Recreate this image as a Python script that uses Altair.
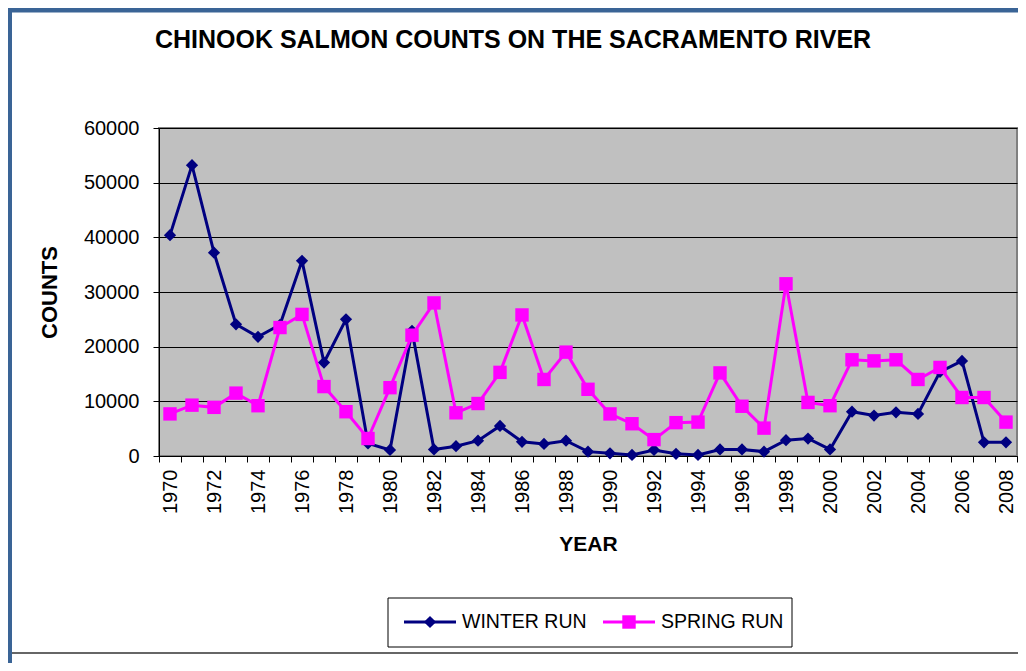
import altair as alt
import pandas as pd

years = list(range(1970, 2009))
winter = [40400, 53200, 37200, 24100, 21800, 24000, 35700, 17100, 25000, 2300,
          1100, 22900, 1200, 1800, 2800, 5500, 2600, 2200, 2800, 800,
          500, 200, 1100, 400, 200, 1200, 1200, 800, 2900, 3200,
          1200, 8100, 7400, 8000, 7700, 15400, 17400, 2500, 2500]
spring = [7700, 9300, 8900, 11500, 9200, 23500, 25900, 12700, 8100, 3200,
          12500, 22100, 28000, 7900, 9600, 15300, 25800, 14000, 19000, 12200,
          7700, 5900, 3000, 6100, 6200, 15200, 9100, 5100, 31500, 9800,
          9200, 17600, 17400, 17600, 14000, 16200, 10700, 10700, 6200]
series_names = ["WINTER RUN", "SPRING RUN"]
series_colors = ["#000080", "#FF00FF"]
series_shapes = ["diamond", "square"]
series_sizes = [150, 180]
y_ticks = [0, 10000, 20000, 30000, 40000, 50000, 60000]

rows = []
for name, vals in zip(series_names, [winter, spring]):
    for yr, v in zip(years, vals):
        rows.append({"year": yr, "count": v, "series": name})
df = pd.DataFrame(rows)

FONT = "Liberation Sans"
W = 858
H = 328

x_enc = alt.X(
    "year:O",
    scale=alt.Scale(type="band", paddingInner=0, paddingOuter=0),
    bandPosition=0.5,
    axis=alt.Axis(
        labelAngle=270,
        labelExpr="datum.value % 2 == 0 ? datum.label : ''",
        labelOverlap=False,
        tickBand="extent",
        tickSize=6,
        labelPadding=7,
        labelFontSize=20,
        labelFont=FONT,
        labelColor="black",
        grid=False,
        domainColor="black",
        tickColor="black",
        title="YEAR",
        titleFont=FONT,
        titleFontSize=21,
        titleFontWeight="bold",
        titleColor="black",
        titlePadding=20,
    ),
)
y_enc = alt.Y(
    "count:Q",
    scale=alt.Scale(domain=[0, 60000], nice=False),
    axis=alt.Axis(
        values=y_ticks,
        format="d",
        grid=True,
        gridColor="black",
        gridWidth=1,
        tickSize=6,
        labelPadding=14,
        labelFontSize=20,
        labelFont=FONT,
        labelColor="black",
        domainColor="black",
        tickColor="black",
        title="COUNTS",
        titleFont=FONT,
        titleFontSize=22,
        titleFontWeight="bold",
        titleColor="black",
        titlePadding=22,
    ),
)

base = alt.Chart(df)
layers = []
for name, col, shp, sz in zip(series_names, series_colors, series_shapes, series_sizes):
    sub = base.transform_filter(alt.datum.series == name)
    layers.append(sub.mark_line(color=col, strokeWidth=3).encode(x=x_enc, y=y_enc))
    layers.append(sub.mark_point(shape=shp, filled=True, size=sz, color=col, opacity=1).encode(x=x_enc, y=y_enc))

one = pd.DataFrame({"a": [0]})

# Chart title
title = alt.Chart(one).mark_text(
    text="CHINOOK SALMON COUNTS ON THE SACRAMENTO RIVER",
    font=FONT, fontSize=25, fontWeight="bold", color="black",
    align="center", baseline="middle",
).encode(x=alt.value(354), y=alt.value(-88))

# Frame decorations
frame_top = alt.Chart(one).mark_rule(color="#3A6496", strokeWidth=5).encode(
    x=alt.value(-151), x2=alt.value(W + 10), y=alt.value(-118))
frame_left = alt.Chart(one).mark_rule(color="#3A6496", strokeWidth=5).encode(
    x=alt.value(-149.5), y=alt.value(-120), y2=alt.value(540))
frame_bottom = alt.Chart(one).mark_rule(color="#666666", strokeWidth=2).encode(
    x=alt.value(-147), x2=alt.value(W + 10), y=alt.value(525))

# Legend
legend_box = alt.Chart(one).mark_rect(fill="white", stroke="black", strokeWidth=1).encode(
    x=alt.value(229), x2=alt.value(633), y=alt.value(470), y2=alt.value(519))
legend_layers = [legend_box]
legend_x = [245, 444]
for name, col, shp, sz, lx in zip(series_names, series_colors, series_shapes, series_sizes, legend_x):
    ldf = pd.DataFrame({"series": [name]})
    legend_layers.append(alt.Chart(ldf).mark_rule(color=col, strokeWidth=3).encode(
        x=alt.value(lx), x2=alt.value(lx + 52), y=alt.value(494)))
    legend_layers.append(alt.Chart(ldf).mark_point(shape=shp, filled=True, size=sz, color=col, opacity=1).encode(
        x=alt.value(lx + 26), y=alt.value(494)))
    legend_layers.append(alt.Chart(ldf).mark_text(
        font=FONT, fontSize=19.5, color="black", align="left", baseline="middle").encode(
        x=alt.value(lx + 58), y=alt.value(494), text="series:N"))

chart = alt.layer(
    *layers, title, frame_top, frame_left, frame_bottom, *legend_layers
).properties(
    width=W,
    height=H,
    padding={"left": 151, "top": 120, "right": 1, "bottom": 207},
    autosize=alt.AutoSizeParams(type="none"),
    background="white",
).configure_view(
    fill="#C0C0C0", stroke="#808080", strokeWidth=2
)

chart.save("out.html", embed_options={"renderer": "svg", "actions": False})
